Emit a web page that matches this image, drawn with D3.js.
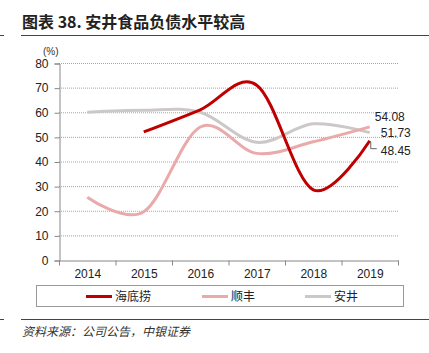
<!DOCTYPE html>
<meta charset="utf-8" />
<script src="https://d3js.org/d3.v7.min.js"></script>
<style>
  body { margin: 0; background: #fff; }
  text { font-family: "Liberation Sans", Arial, sans-serif; }
  .cjk { font-family: "Noto Sans CJK SC", sans-serif; }
</style>
<body>
<svg id="chart" width="429" height="353"></svg>
<script>
  // data
  const years = ["2014", "2015", "2016", "2017", "2018", "2019"];
  const haidilao = [null, 52, 61, 71, 28.5, 48.45];
  const shunfeng = [25.5, 19.6, 54, 43.3, 48, 54.08];
  const anjing = [60, 60.8, 60, 47.8, 55.3, 51.73];
  const yTicks = [0, 10, 20, 30, 40, 50, 60, 70, 80];

  const series = [
    { name: "海底捞", values: haidilao, color: "#c00000" },
    { name: "顺丰", values: shunfeng, color: "#eaaaaa" },
    { name: "安井", values: anjing, color: "#cdc8c8" }
  ];

  const svg = d3.select("#chart");

  // title + rules
  svg.append("text").attr("class", "cjk")
    .attr("x", 22).attr("y", 28)
    .attr("font-size", 16).attr("font-weight", "bold").attr("fill", "#222")
    .text("图表 38. 安井食品负债水平较高");
  svg.append("line").attr("x1", 21).attr("x2", 429).attr("y1", 35.5).attr("y2", 35.5)
    .attr("stroke", "#444").attr("stroke-width", 1.2);
  svg.append("line").attr("x1", 0).attr("x2", 4).attr("y1", 35.5).attr("y2", 35.5)
    .attr("stroke", "#444").attr("stroke-width", 1);

  const x = d3.scaleBand().domain(years).range([59, 398]);
  const y = d3.scaleLinear().domain([0, 80]).range([260, 63]);

  // grid
  svg.append("g").selectAll("line").data(yTicks.slice(1)).join("line")
    .attr("x1", 59).attr("x2", 398)
    .attr("y1", d => y(d) + 0.5).attr("y2", d => y(d) + 0.5)
    .attr("stroke", "#a6a6a6").attr("stroke-width", 1).attr("stroke-dasharray", "1,1");

  // axes
  const yAxis = svg.append("g").attr("transform", "translate(59.5,0.5)")
    .call(d3.axisLeft(y).tickValues(yTicks).tickSize(5).tickPadding(6));
  const xAxis = svg.append("g").attr("transform", "translate(0.5,260.5)")
    .call(d3.axisBottom(x).tickSize(0).tickPadding(9));
  xAxis.append("g").selectAll("line").data(d3.range(years.length + 1)).join("line")
    .attr("x1", i => 59 + i * x.step()).attr("x2", i => 59 + i * x.step())
    .attr("y1", 0).attr("y2", 5).attr("stroke", "#888");
  [yAxis, xAxis].forEach(a => {
    a.select(".domain").attr("stroke", "#888");
    a.selectAll(".tick line").attr("stroke", "#888");
    a.selectAll("text").attr("font-size", 12).attr("fill", "#222")
      .attr("font-family", "'Liberation Sans', Arial, sans-serif");
  });

  svg.append("text").attr("x", 43).attr("y", 55)
    .attr("font-size", 10).attr("fill", "#333")
    .attr("font-family", "'Liberation Serif', serif").text("(%)");

  // lines
  const line = d3.line()
    .defined(d => d.v != null)
    .x(d => x(d.year) + x.bandwidth() / 2)
    .y(d => y(d.v))
    .curve(d3.curveCatmullRom.alpha(0));

  [series[2], series[1], series[0]].forEach(s => {
    svg.append("path")
      .datum(years.map((yr, i) => ({ year: yr, v: s.values[i] })))
      .attr("d", line)
      .attr("fill", "none")
      .attr("stroke", s.color)
      .attr("stroke-width", 3)
      .attr("stroke-linecap", "butt");
  });

  // end labels
  const last = years[years.length - 1];
  const lx = x(last) + x.bandwidth() / 2;
  svg.append("text").attr("x", lx + 5).attr("y", y(shunfeng[5]) - 6)
    .attr("font-size", 12).attr("fill", "#222").text(shunfeng[5].toFixed(2));
  svg.append("text").attr("x", lx + 11).attr("y", y(anjing[5]) + 4)
    .attr("font-size", 12).attr("fill", "#222").text(anjing[5].toFixed(2));
  svg.append("polyline")
    .attr("points", `${lx + 1},${y(haidilao[5]) + 1} ${lx + 1},${y(haidilao[5]) + 8} ${lx + 7},${y(haidilao[5]) + 8}`)
    .attr("fill", "none").attr("stroke", "#666").attr("stroke-width", 1);
  svg.append("text").attr("x", lx + 11).attr("y", y(haidilao[5]) + 14)
    .attr("font-size", 12).attr("fill", "#222").text(haidilao[5].toFixed(2));

  // legend
  svg.append("rect").attr("x", 36.5).attr("y", 285.5).attr("width", 367).attr("height", 21)
    .attr("fill", "none").attr("stroke", "#999");
  const legendX = [86, 202, 305];
  series.forEach((s, i) => {
    svg.append("line").attr("x1", legendX[i]).attr("x2", legendX[i] + 26)
      .attr("y1", 296.5).attr("y2", 296.5).attr("stroke", s.color).attr("stroke-width", 3);
    svg.append("text").attr("class", "cjk").attr("x", legendX[i] + 29).attr("y", 301)
      .attr("font-size", 12).attr("fill", "#222").text(s.name);
  });

  // source
  svg.append("line").attr("x1", 21).attr("x2", 429).attr("y1", 319.5).attr("y2", 319.5)
    .attr("stroke", "#444").attr("stroke-width", 1.2);
  svg.append("line").attr("x1", 0).attr("x2", 4).attr("y1", 319.5).attr("y2", 319.5)
    .attr("stroke", "#444").attr("stroke-width", 1);
  svg.append("text").attr("class", "cjk").attr("x", 22).attr("y", 336)
    .attr("font-size", 12).attr("font-style", "italic").attr("fill", "#333")
    .text("资料来源：公司公告，中银证券");
</script>
</body>
